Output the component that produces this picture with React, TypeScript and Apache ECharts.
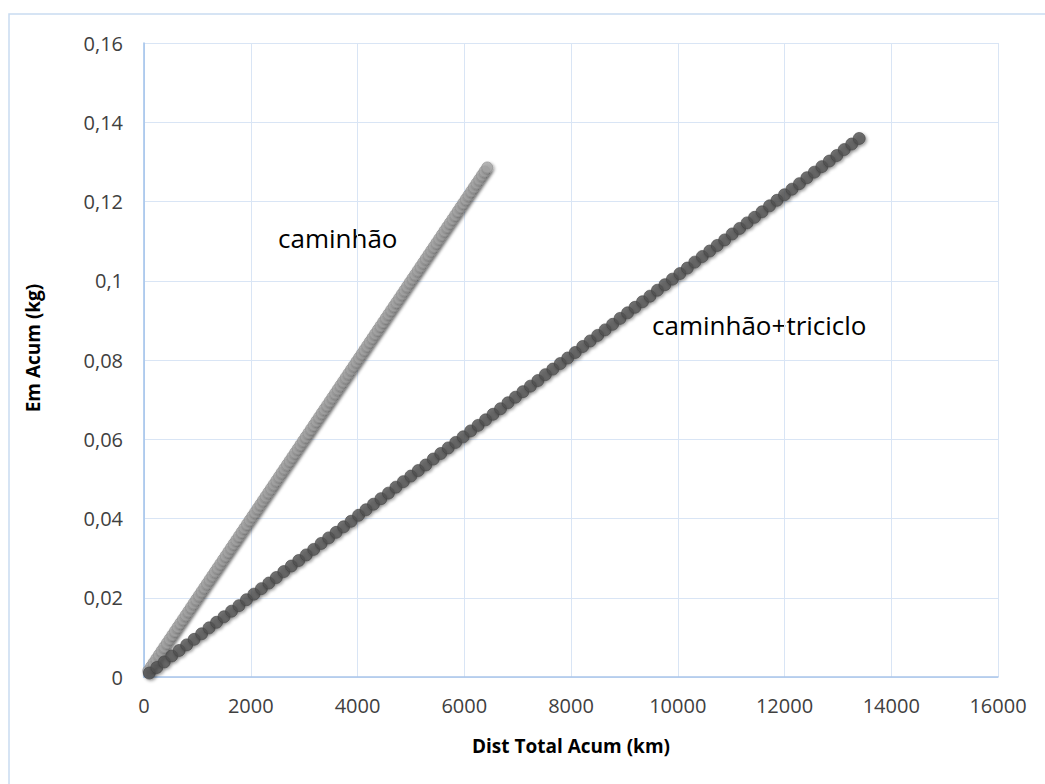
import React, { useEffect, useRef } from "react";
import * as echarts from "echarts";

// caminhão (gray series)
const caminhaoX: number[] = [
  80, 130, 180, 230, 280, 330, 380, 430, 480, 530,
  580, 630, 680, 730, 780, 830, 880, 930, 980, 1030,
  1080, 1130, 1180, 1230, 1280, 1330, 1380, 1430, 1480, 1530,
  1580, 1630, 1680, 1730, 1780, 1830, 1880, 1930, 1980, 2030,
  2080, 2130, 2180, 2230, 2280, 2330, 2380, 2430, 2480, 2530,
  2580, 2630, 2680, 2730, 2780, 2830, 2880, 2930, 2980, 3030,
  3080, 3130, 3180, 3230, 3280, 3330, 3380, 3430, 3480, 3530,
  3580, 3630, 3680, 3730, 3780, 3830, 3880, 3930, 3980, 4030,
  4080, 4130, 4180, 4230, 4280, 4330, 4380, 4430, 4480, 4530,
  4580, 4630, 4680, 4730, 4780, 4830, 4880, 4930, 4980, 5030,
  5080, 5130, 5180, 5230, 5280, 5330, 5380, 5430, 5480, 5530,
  5580, 5630, 5680, 5730, 5780, 5830, 5880, 5930, 5980, 6030,
  6080, 6130, 6180, 6230, 6280, 6330, 6380, 6430,
];
const caminhaoY: number[] = [
  0.0016, 0.0026, 0.0036, 0.0046, 0.0056, 0.0066, 0.0076, 0.0086, 0.0096, 0.0106,
  0.0116, 0.0126, 0.0136, 0.0146, 0.0156, 0.0166, 0.0176, 0.0186, 0.0196, 0.0206,
  0.0216, 0.0226, 0.0236, 0.0246, 0.0256, 0.0266, 0.0276, 0.0286, 0.0296, 0.0306,
  0.0316, 0.0326, 0.0336, 0.0346, 0.0356, 0.0366, 0.0376, 0.0386, 0.0396, 0.0406,
  0.0416, 0.0426, 0.0436, 0.0446, 0.0456, 0.0466, 0.0476, 0.0486, 0.0496, 0.0506,
  0.0516, 0.0526, 0.0536, 0.0546, 0.0556, 0.0566, 0.0576, 0.0586, 0.0596, 0.0606,
  0.0616, 0.0626, 0.0636, 0.0646, 0.0656, 0.0666, 0.0676, 0.0686, 0.0696, 0.0706,
  0.0716, 0.0726, 0.0736, 0.0746, 0.0756, 0.0766, 0.0776, 0.0786, 0.0796, 0.0806,
  0.0816, 0.0826, 0.0836, 0.0846, 0.0856, 0.0866, 0.0876, 0.0886, 0.0896, 0.0906,
  0.0916, 0.0926, 0.0936, 0.0946, 0.0956, 0.0966, 0.0976, 0.0986, 0.0996, 0.1006,
  0.1016, 0.1026, 0.1036, 0.1046, 0.1056, 0.1066, 0.1076, 0.1086, 0.1096, 0.1106,
  0.1116, 0.1126, 0.1136, 0.1146, 0.1156, 0.1166, 0.1176, 0.1186, 0.1196, 0.1206,
  0.1216, 0.1226, 0.1236, 0.1246, 0.1256, 0.1266, 0.1276, 0.1286,
];

// caminhão+triciclo (dark series)
const tricicloX: number[] = [
  100, 240, 380, 520, 660, 800, 940, 1080, 1220, 1360,
  1500, 1640, 1780, 1920, 2060, 2200, 2340, 2480, 2620, 2760,
  2900, 3040, 3180, 3320, 3460, 3600, 3740, 3880, 4020, 4160,
  4300, 4440, 4580, 4720, 4860, 5000, 5140, 5280, 5420, 5560,
  5700, 5840, 5980, 6120, 6260, 6400, 6540, 6680, 6820, 6960,
  7100, 7240, 7380, 7520, 7660, 7800, 7940, 8080, 8220, 8360,
  8500, 8640, 8780, 8920, 9060, 9200, 9340, 9480, 9620, 9760,
  9900, 10040, 10180, 10320, 10460, 10600, 10740, 10880, 11020, 11160,
  11300, 11440, 11580, 11720, 11860, 12000, 12140, 12280, 12420, 12560,
  12700, 12840, 12980, 13120, 13260, 13400,
];
const tricicloY: number[] = [
  0.001, 0.0024, 0.0038, 0.0053, 0.0067, 0.0081, 0.0095, 0.0109, 0.0124, 0.0138,
  0.0152, 0.0166, 0.018, 0.0195, 0.0209, 0.0223, 0.0237, 0.0251, 0.0266, 0.028,
  0.0294, 0.0308, 0.0322, 0.0337, 0.0351, 0.0365, 0.0379, 0.0393, 0.0408, 0.0422,
  0.0436, 0.045, 0.0464, 0.0479, 0.0493, 0.0507, 0.0521, 0.0535, 0.055, 0.0564,
  0.0578, 0.0592, 0.0606, 0.0621, 0.0635, 0.0649, 0.0663, 0.0677, 0.0692, 0.0706,
  0.072, 0.0734, 0.0748, 0.0763, 0.0777, 0.0791, 0.0805, 0.0819, 0.0834, 0.0848,
  0.0862, 0.0876, 0.089, 0.0905, 0.0919, 0.0933, 0.0947, 0.0961, 0.0976, 0.099,
  0.1004, 0.1018, 0.1032, 0.1047, 0.1061, 0.1075, 0.1089, 0.1103, 0.1118, 0.1132,
  0.1146, 0.116, 0.1174, 0.1189, 0.1203, 0.1217, 0.1231, 0.1245, 0.126, 0.1274,
  0.1288, 0.1302, 0.1316, 0.1331, 0.1345, 0.1359,
];

const seriesNames = ["caminhão", "caminhão+triciclo"];
const xTitle = "Dist Total Acum (km)";
const yTitle = "Em Acum (kg)";

const FONT = "'Open Sans', 'Noto Sans', sans-serif";

export default function App() {
  const ref = useRef<HTMLDivElement>(null);

  useEffect(() => {
    if (!ref.current) return;
    const chart = echarts.init(ref.current, null, { renderer: "svg" });
    const gray = caminhaoX.map((x, i) => [x, caminhaoY[i]]);
    const dark = tricicloX.map((x, i) => [x, tricicloY[i]]);
    const shadow = {
      shadowColor: "rgba(0,0,0,0.45)",
      shadowBlur: 3,
      shadowOffsetX: 1.5,
      shadowOffsetY: 1.5,
    };
    chart.setOption({
      animation: false,
      backgroundColor: "#ffffff",
      grid: { left: 144, top: 43, right: 47, bottom: 107, containLabel: false },
      xAxis: {
        type: "value",
        min: 0,
        max: 16000,
        interval: 2000,
        axisLine: { show: true, lineStyle: { color: "#a9c5ea", width: 1.5 } },
        axisTick: { show: false },
        splitLine: { show: true, lineStyle: { color: "#d9e5f5", width: 1 } },
        axisLabel: {
          color: "#404040",
          fontFamily: FONT,
          fontSize: 20,
          margin: 18,
          formatter: (v: number) => String(v),
        },
      },
      yAxis: {
        type: "value",
        min: 0,
        max: 0.16,
        interval: 0.02,
        axisLine: { show: true, lineStyle: { color: "#9fc0ea", width: 1.5 } },
        axisTick: { show: false },
        splitLine: { show: true, lineStyle: { color: "#d9e5f5", width: 1 } },
        axisLabel: {
          color: "#404040",
          fontFamily: FONT,
          fontSize: 20,
          margin: 21,
          formatter: (v: number) => String(Math.round(v * 100) / 100).replace(".", ","),
        },
      },
      graphic: [
        {
          type: "rect",
          z: -10,
          shape: { x: 9, y: 14, width: 1200, height: 1000 },
          style: { fill: "none", stroke: "#c9dbf1", lineWidth: 1.5 },
        },
        {
          type: "text",
          x: 571,
          y: 746,
          style: {
            text: xTitle,
            font: `bold 19px ${FONT}`,
            fill: "#000",
            align: "center",
            verticalAlign: "middle",
          },
        },
        {
          type: "text",
          x: 33,
          y: 348,
          rotation: Math.PI / 2,
          style: {
            text: yTitle,
            font: `bold 19px ${FONT}`,
            fill: "#000",
            align: "center",
            verticalAlign: "middle",
          },
        },
        {
          type: "text",
          x: 278,
          y: 238,
          style: {
            text: seriesNames[0],
            font: `26px ${FONT}`,
            fill: "#000",
            align: "left",
            verticalAlign: "middle",
          },
        },
        {
          type: "text",
          x: 652,
          y: 325,
          style: {
            text: seriesNames[1],
            font: `26px ${FONT}`,
            fill: "#000",
            align: "left",
            verticalAlign: "middle",
          },
        },
      ],
      series: [
        {
          name: seriesNames[0],
          type: "scatter",
          data: gray,
          symbol: "circle",
          symbolSize: 11,
          itemStyle: { color: "#a6a6a6", borderColor: "#8f8f8f", borderWidth: 0.8, ...shadow },
        },
        {
          name: seriesNames[1],
          type: "scatter",
          data: dark,
          symbol: "circle",
          symbolSize: 12,
          itemStyle: { color: "#525252", borderColor: "#444444", borderWidth: 0.8, ...shadow },
        },
      ],
    });
    return () => chart.dispose();
  }, []);

  return (
    <div
      ref={ref}
      style={{ position: "absolute", left: 0, top: 0, width: 1045, height: 784, background: "#fff" }}
    />
  );
}
